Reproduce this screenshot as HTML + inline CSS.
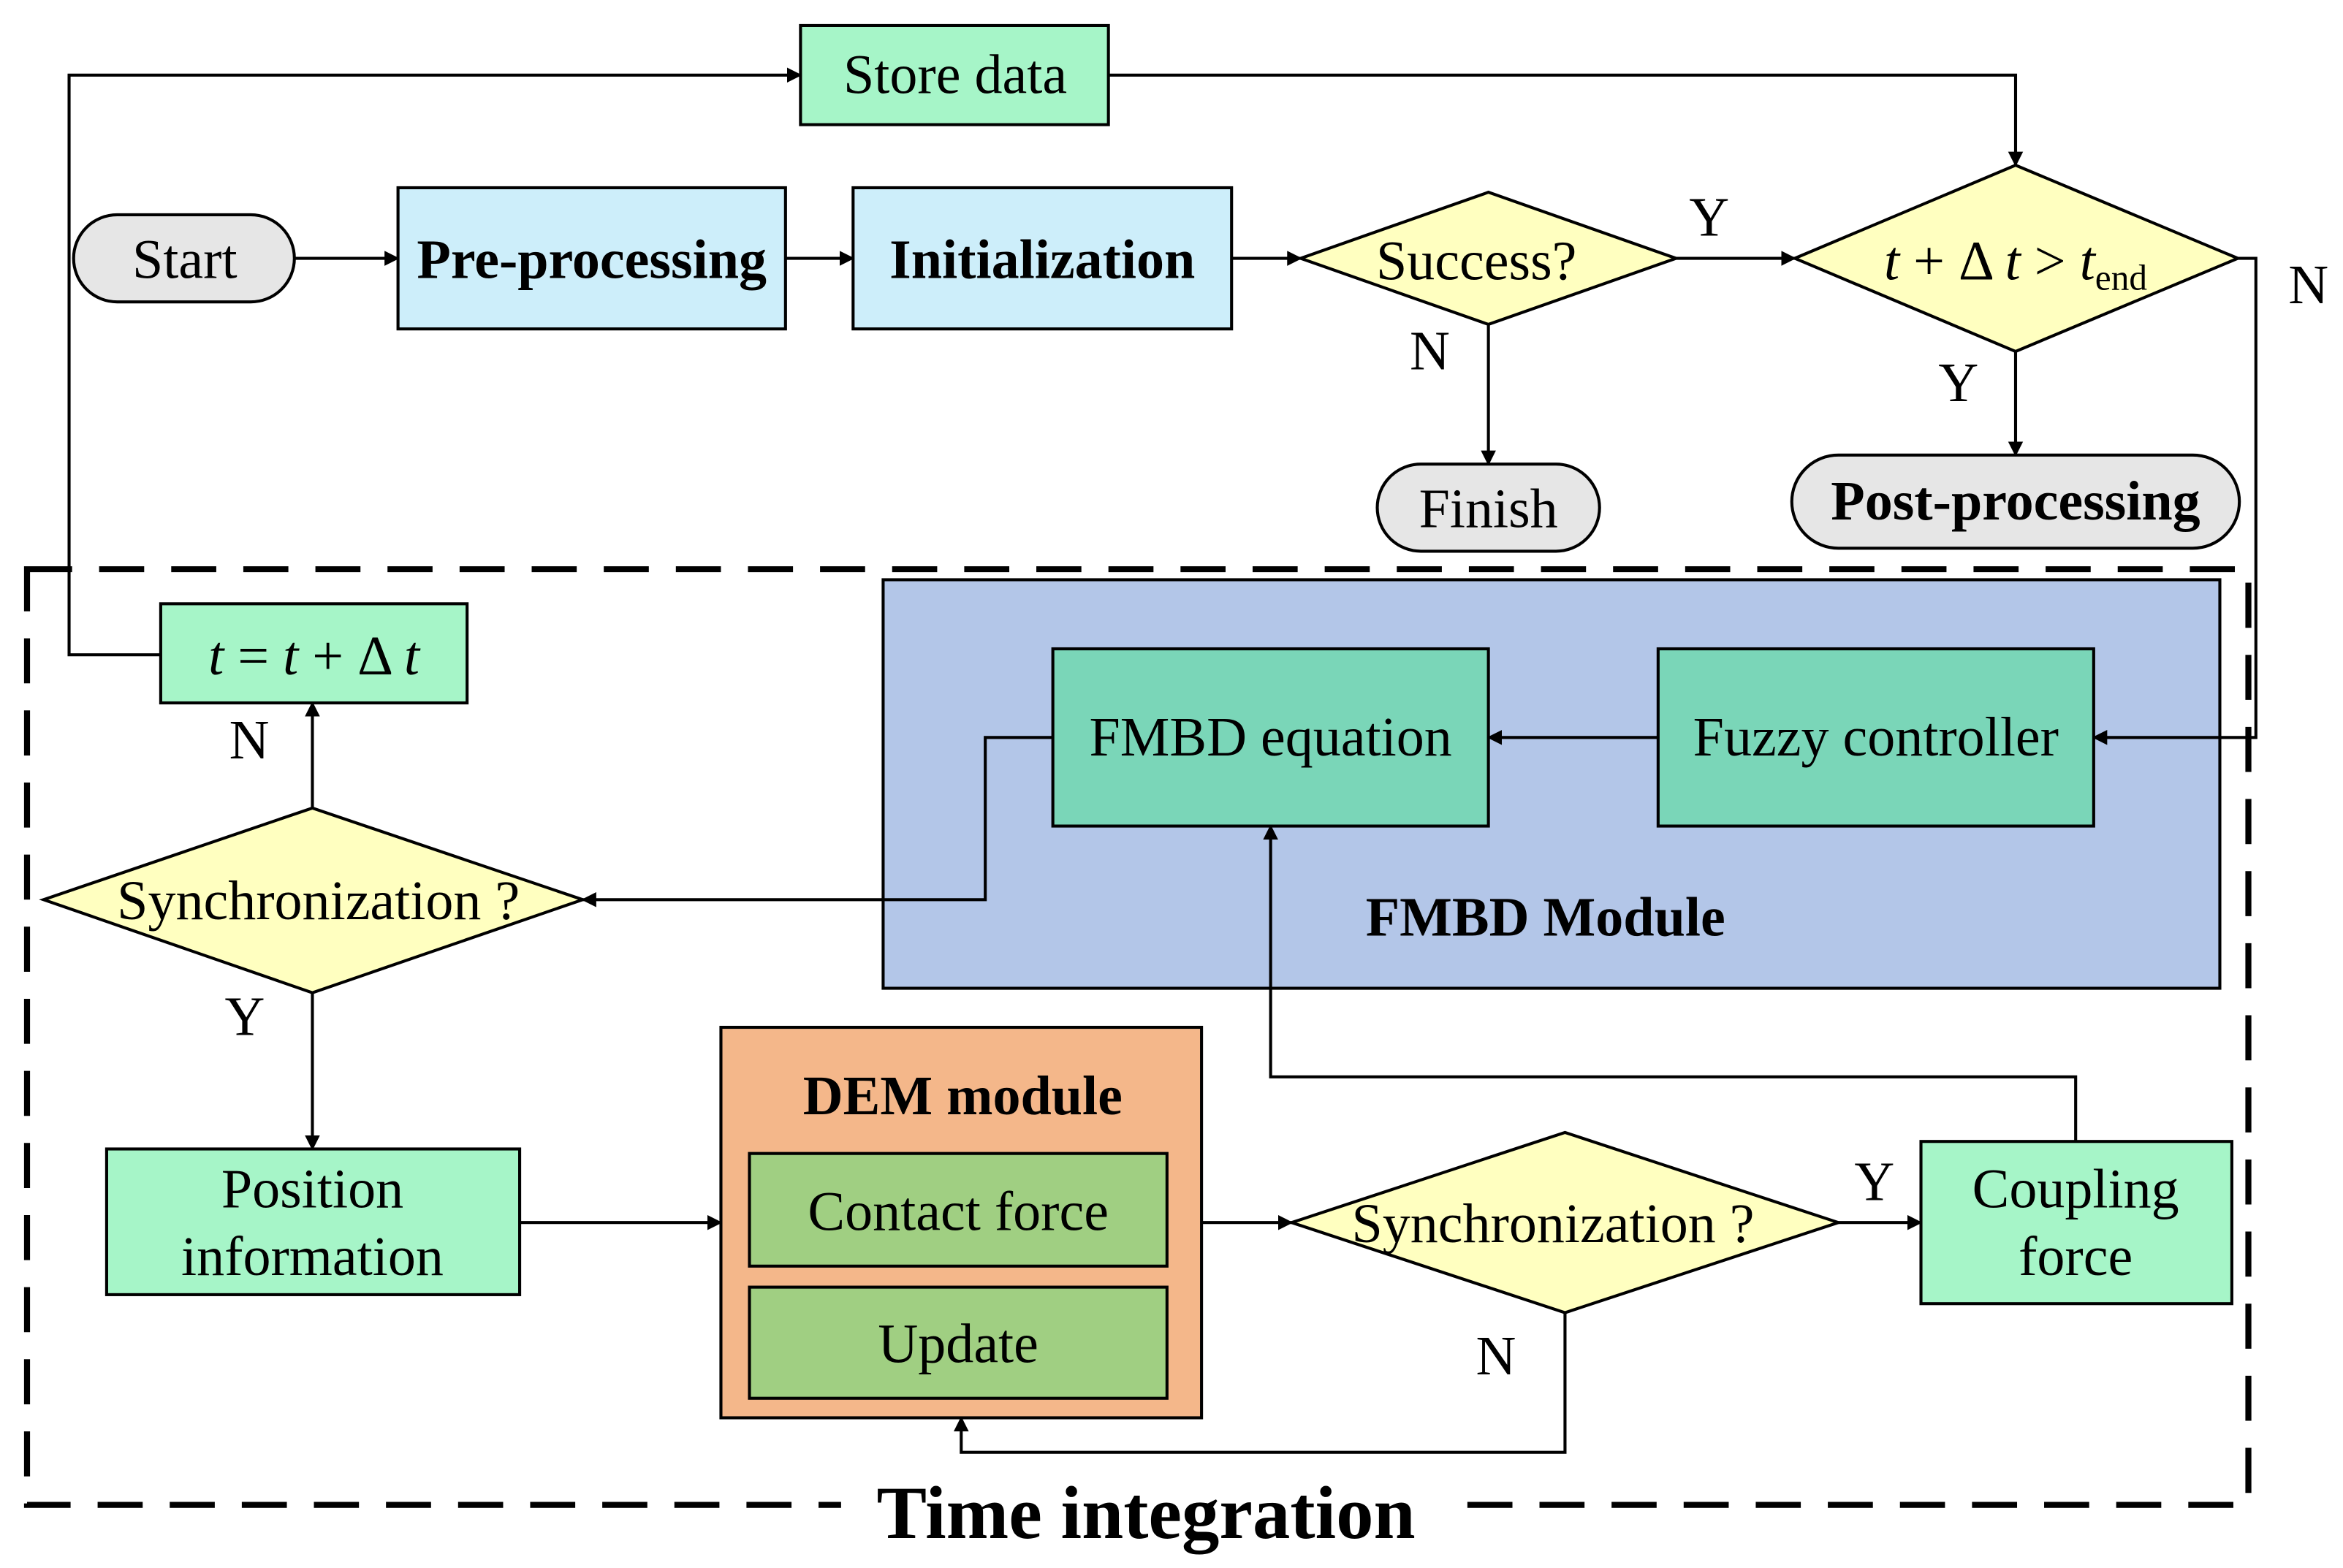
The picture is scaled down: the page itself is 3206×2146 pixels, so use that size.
<!DOCTYPE html>
<html><head><meta charset="utf-8"><style>html,body{margin:0;padding:0;background:#fff}svg{display:block}</style></head><body>
<svg xmlns="http://www.w3.org/2000/svg" width="3206" height="2146" viewBox="0 0 1560 1044" preserveAspectRatio="none" font-family="Liberation Serif, serif">
<defs><marker id="a" markerWidth="10" markerHeight="10" refX="9" refY="5" orient="auto" markerUnits="userSpaceOnUse"><path d="M0,0 L10,5 L0,10 z" fill="#000"/></marker></defs>
<g fill="none" stroke="#000" stroke-width="2">
<rect x="18" y="379" width="1479" height="623" stroke-width="4" stroke-dasharray="30,18"/>
</g>
<rect x="560" y="985" width="410" height="50" fill="#fff"/>
<text x="763" y="1024" font-size="50" font-weight="bold" text-anchor="middle">Time integration</text>
<rect x="588" y="386" width="890" height="272" fill="#b3c6e8" stroke="#000" stroke-width="2"/>
<g stroke="#000" stroke-width="2">
<rect x="533" y="17" width="205" height="66" fill="#a6f5c8"/>
<rect x="49" y="143" width="147" height="58" rx="29" fill="#e6e6e6"/>
<rect x="265" y="125" width="258" height="94" fill="#cdeefa"/>
<rect x="568" y="125" width="252" height="94" fill="#cdeefa"/>
<polygon points="866,172 991,128 1116,172 991,216" fill="#ffffc0"/>
<polygon points="1195,172 1342,110 1490,172 1342,234" fill="#ffffc0"/>
<rect x="917" y="309" width="148" height="58" rx="29" fill="#e6e6e6"/>
<rect x="1193" y="303" width="298" height="62" rx="31" fill="#e6e6e6"/>
<rect x="107" y="402" width="204" height="66" fill="#a6f5c8"/>
<rect x="701" y="432" width="290" height="118" fill="#7ad6b8"/>
<rect x="1104" y="432" width="290" height="118" fill="#7ad6b8"/>
<polygon points="29,599 208,538 388,599 208,661" fill="#ffffc0"/>
<rect x="71" y="765" width="275" height="97" fill="#a6f5c8"/>
<rect x="480" y="684" width="320" height="260" fill="#f4b78a"/>
<rect x="499" y="768" width="278" height="75" fill="#a0cf82"/>
<rect x="499" y="857" width="278" height="74" fill="#a0cf82"/>
<polygon points="860,814 1042,754 1224,814 1042,874" fill="#ffffc0"/>
<rect x="1279" y="760" width="207" height="108" fill="#a6f5c8"/>
</g>
<g fill="none" stroke="#000" stroke-width="2" marker-end="url(#a)">
<polyline points="107,436 46,436 46,50 533,50"/>
<polyline points="738,50 1342,50 1342,110"/>
<line x1="196" y1="172" x2="265" y2="172"/>
<line x1="523" y1="172" x2="568" y2="172"/>
<line x1="820" y1="172" x2="866" y2="172"/>
<line x1="1116" y1="172" x2="1195" y2="172"/>
<line x1="991" y1="216" x2="991" y2="309"/>
<line x1="1342" y1="234" x2="1342" y2="303"/>
<polyline points="1490,172 1502,172 1502,491 1394,491"/>
<line x1="1104" y1="491" x2="991" y2="491"/>
<polyline points="701,491 656,491 656,599 388,599"/>
<line x1="208" y1="661" x2="208" y2="765"/>
<line x1="208" y1="538" x2="208" y2="468"/>
<line x1="346" y1="814" x2="480" y2="814"/>
<line x1="800" y1="814" x2="860" y2="814"/>
<line x1="1224" y1="814" x2="1279" y2="814"/>
<polyline points="1042,874 1042,967 640,967 640,944"/>
<polyline points="1382,760 1382,717 846,717 846,550"/>
</g>
<g font-size="37" text-anchor="middle">
<text x="636" y="62">Store data</text>
<text x="123" y="185">Start</text>
<text x="394" y="185" font-weight="bold">Pre-processing</text>
<text x="694" y="185" font-weight="bold">Initialization</text>
<text x="983" y="186">Success?</text>
<text x="1342" y="186"><tspan font-style="italic">t</tspan> + Δ <tspan font-style="italic">t</tspan> &gt; <tspan font-style="italic">t</tspan><tspan font-size="24" dy="7">end</tspan></text>
<text x="991" y="351">Finish</text>
<text x="1342" y="346" font-weight="bold">Post-processing</text>
<text x="209" y="449"><tspan font-style="italic">t</tspan> = <tspan font-style="italic">t</tspan> + Δ <tspan font-style="italic">t</tspan></text>
<text x="846" y="503">FMBD equation</text>
<text x="1249" y="503">Fuzzy controller</text>
<text x="1029" y="623" font-weight="bold">FMBD Module</text>
<text x="212" y="612">Synchronization ?</text>
<text x="208" y="804">Position</text>
<text x="208" y="849">information</text>
<text x="641" y="742" font-weight="bold">DEM module</text>
<text x="638" y="819">Contact force</text>
<text x="638" y="907">Update</text>
<text x="1034" y="827">Synchronization ?</text>
<text x="1382" y="804">Coupling</text>
<text x="1382" y="849">force</text>
<text x="1138" y="157">Y</text>
<text x="952" y="246">N</text>
<text x="1304" y="267">Y</text>
<text x="1537" y="202">N</text>
<text x="163" y="689">Y</text>
<text x="166" y="505">N</text>
<text x="1248" y="799">Y</text>
<text x="996" y="915">N</text>
</g>
</svg>
</body></html>
